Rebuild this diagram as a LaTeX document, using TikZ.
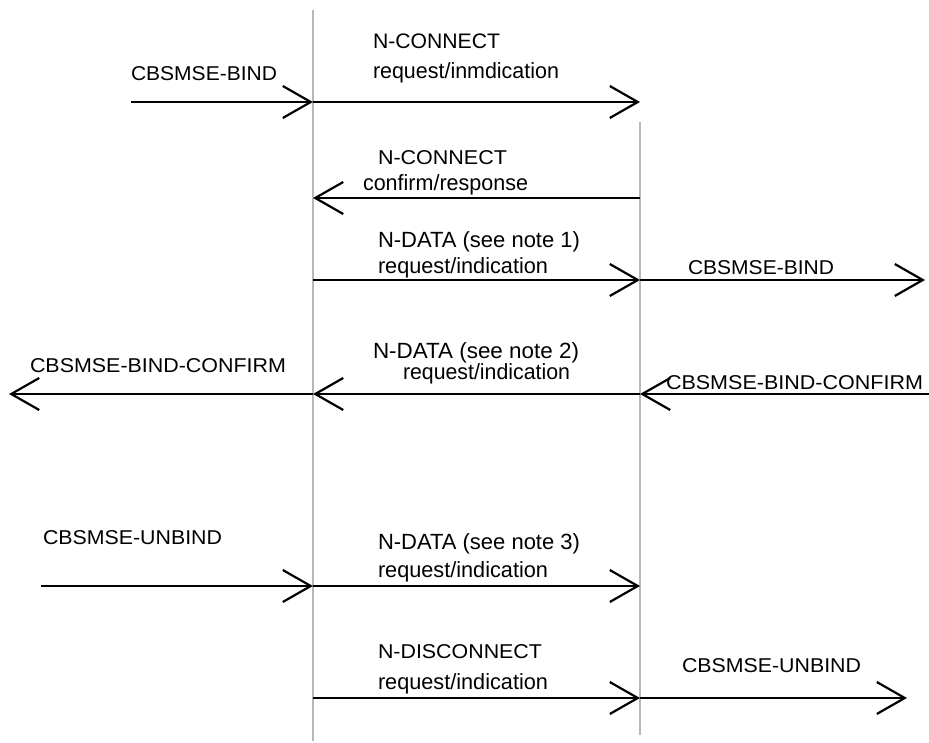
\documentclass[tikz,border=0pt]{standalone}
\usepackage{fontspec}
\setmainfont{Liberation Sans}
\usepackage{graphicx}
\usetikzlibrary{arrows.meta}
\newcommand\lbl[3]{\fontsize{#1}{#1}\selectfont\resizebox{#2pt}{\height}{#3}}
\begin{document}
\begin{tikzpicture}[x=1pt,y=-1pt,
  lifeline/.style={draw=black!28,line width=2pt},
  msg/.style={draw=black,line width=2.8pt,
    -{Straight Barb[length=28pt,width=32pt,line width=2.2pt]}},
  lab/.style={anchor=base west,inner sep=0pt,outer sep=0pt}]
\useasboundingbox (0,0) rectangle (929,743);
% lifelines
\coordinate (LT) at (313,10);
\coordinate (LB) at (313,741);
\coordinate (RT) at (640,122);
\coordinate (RB) at (640,735);
\draw[lifeline] (LT) -- (LB);
\draw[lifeline] (RT) -- (RB);
% message end points
\coordinate (a1s) at (131,102);
\coordinate (a1m) at (313,102);
\coordinate (a1e) at (640,102);
\coordinate (a3s) at (640,198);
\coordinate (a3e) at (313,198);
\coordinate (a4s) at (313,280);
\coordinate (a4m) at (640,280);
\coordinate (a4e) at (925,280);
\coordinate (a5s) at (929,394);
\coordinate (a5m) at (640,394);
\coordinate (a5n) at (313,394);
\coordinate (a5e) at (9,394);
\coordinate (a6s) at (41,586);
\coordinate (a6m) at (313,586);
\coordinate (a6e) at (640,586);
\coordinate (a7s) at (313,698);
\coordinate (a7m) at (640,698);
\coordinate (a7e) at (907,698);
% messages
\draw[msg] (a1s) -- (a1m);
\draw[msg] (a1m) -- (a1e);
\draw[msg] (a3s) -- (a3e);
\draw[msg] (a4s) -- (a4m);
\draw[msg] (a4m) -- (a4e);
\draw[msg] (a5s) -- (a5m);
\draw[msg] (a5m) -- (a5n);
\draw[msg] (a5n) -- (a5e);
\draw[msg] (a6s) -- (a6m);
\draw[msg] (a6m) -- (a6e);
\draw[msg] (a7s) -- (a7m);
\draw[msg] (a7m) -- (a7e);
% labels
\node[lab] (t1) at (131,81) {\lbl{20}{146}{CBSMSE-BIND}};
\node[lab] (t2) at (373,49) {\lbl{21}{127}{N-CONNECT}};
\node[lab] (t3) at (373,79) {\lbl{22}{186}{request/inmdication}};
\node[lab] (t4) at (378,165) {\lbl{20}{129}{N-CONNECT}};
\node[lab] (t5) at (363,191) {\lbl{22}{165}{confirm/response}};
\node[lab] (t6) at (378,248) {\lbl{22}{202}{N-DATA (see note 1)}};
\node[lab] (t7) at (378,274) {\lbl{22}{170}{request/indication}};
\node[lab] (t8) at (688,275) {\lbl{20}{146}{CBSMSE-BIND}};
\node[lab] (t9) at (30,372) {\lbl{20}{256}{CBSMSE-BIND-CONFIRM}};
\node[lab] (t10) at (373,358) {\lbl{22}{206}{N-DATA (see note 2)}};
\node[lab] (t11) at (403,379) {\lbl{22}{167}{request/indication}};
\node[lab] (t12) at (666,389) {\lbl{20}{257}{CBSMSE-BIND-CONFIRM}};
\node[lab] (t13) at (43,544) {\lbl{20}{179}{CBSMSE-UNBIND}};
\node[lab] (t14) at (378,549) {\lbl{22}{202}{N-DATA (see note 3)}};
\node[lab] (t15) at (378,577) {\lbl{22}{170}{request/indication}};
\node[lab] (t16) at (378,658) {\lbl{20}{164}{N-DISCONNECT}};
\node[lab] (t17) at (378,689) {\lbl{22}{170}{request/indication}};
\node[lab] (t18) at (682,672) {\lbl{20}{179}{CBSMSE-UNBIND}};
\end{tikzpicture}
\end{document}
